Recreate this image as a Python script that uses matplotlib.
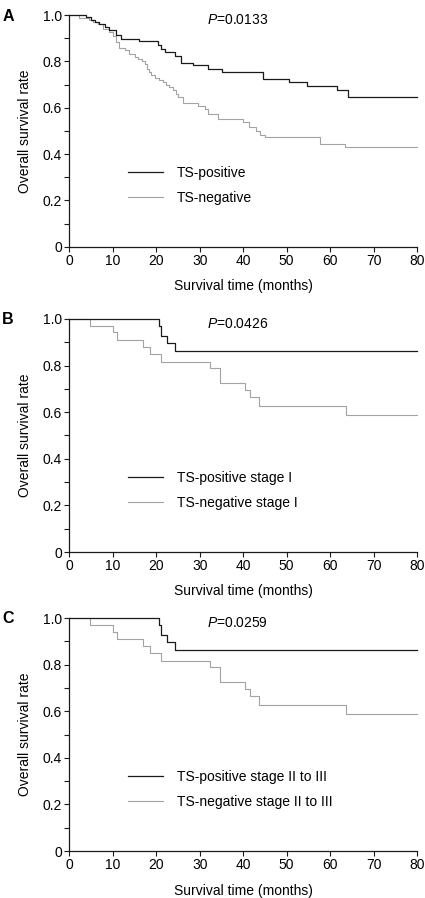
import matplotlib.pyplot as plt
from matplotlib.ticker import MultipleLocator

plt.rcParams["font.family"] = ["Liberation Sans", "DejaVu Sans"]
plt.rcParams["mathtext.fontset"] = "custom"
plt.rcParams["mathtext.it"] = "Liberation Sans:italic"
plt.rcParams["mathtext.rm"] = "Liberation Sans"

# Panel A: all patients
a_pos_t = [0, 3.7, 5.0, 5.8, 6.9, 8.1, 9.2, 10.8, 11.9, 16.1, 20.4, 21.1, 22.1, 24.2,
           25.7, 28.4, 31.9, 35.0, 44.6, 50.6, 54.7, 61.6, 64.2, 80]
a_pos_s = [1.0, 0.99, 0.98, 0.97, 0.96, 0.95, 0.934, 0.916, 0.898, 0.889, 0.873, 0.856,
           0.84, 0.823, 0.794, 0.785, 0.768, 0.753, 0.724, 0.71, 0.693, 0.675, 0.646, 0.646]
a_neg_t = [0, 2.3, 4.6, 5.4, 6.6, 7.7, 9.2, 10.0, 10.8, 11.5, 12.7, 13.8, 15.0, 15.8,
           16.8, 17.3, 17.8, 18.3, 18.8, 19.6, 20.7, 21.5, 22.3, 23.0, 23.8, 24.6, 25.0,
           26.1, 29.6, 31.1, 31.9, 34.2, 40.0, 41.3, 43.0, 43.8, 45.0, 57.6, 63.4, 80]
a_neg_s = [1.0, 0.988, 0.98, 0.97, 0.964, 0.942, 0.928, 0.91, 0.883, 0.86, 0.85, 0.834,
           0.82, 0.81, 0.80, 0.79, 0.768, 0.753, 0.74, 0.73, 0.72, 0.71, 0.70, 0.688,
           0.675, 0.66, 0.645, 0.622, 0.609, 0.594, 0.573, 0.553, 0.538, 0.517, 0.498,
           0.483, 0.472, 0.443, 0.429, 0.429]

# Panel B: stage I
b_pos_t = [0, 20.5, 21.1, 22.4, 24.4, 80]
b_pos_s = [1.0, 0.971, 0.928, 0.899, 0.862, 0.862]
b_neg_t = [0, 4.8, 10.0, 10.9, 16.9, 18.6, 21.1, 32.3, 34.7, 40.3, 41.5, 43.6, 63.6, 80]
b_neg_s = [1.0, 0.971, 0.942, 0.91, 0.88, 0.848, 0.817, 0.788, 0.725, 0.696, 0.664,
           0.628, 0.588, 0.588]

# Panel C: stage II to III
c_pos_t = [0, 20.5, 21.1, 22.4, 24.4, 80]
c_pos_s = [1.0, 0.971, 0.928, 0.899, 0.862, 0.862]
c_neg_t = [0, 4.8, 10.0, 10.9, 16.9, 18.6, 21.1, 32.3, 34.7, 40.3, 41.5, 43.6, 63.6, 80]
c_neg_s = [1.0, 0.971, 0.942, 0.91, 0.88, 0.848, 0.817, 0.788, 0.725, 0.696, 0.664,
           0.628, 0.588, 0.588]

p_values = ["0.0133", "0.0426", "0.0259"]

panels = [
    ("A", "TS-positive", "TS-negative", (a_pos_t, a_pos_s), (a_neg_t, a_neg_s)),
    ("B", "TS-positive stage I", "TS-negative stage I", (b_pos_t, b_pos_s), (b_neg_t, b_neg_s)),
    ("C", "TS-positive stage II to III", "TS-negative stage II to III",
     (c_pos_t, c_pos_s), (c_neg_t, c_neg_s)),
]
# axes boxes in figure fractions: (bottom, height)
boxes = [(0.7253, 0.2578), (0.3853, 0.2595), (0.0523, 0.2595)]

BLACK = "#1a1a1a"
GREY = "#a3a3a3"
FS = 10

fig = plt.figure(figsize=(4.25, 8.98), dpi=100)

for (letter, lab_pos, lab_neg, pos, neg), pval, (bottom, height) in zip(panels, p_values, boxes):
    ax = fig.add_axes([0.1635, bottom, 0.8176, height])
    ax.step(neg[0], neg[1], where="post", color=GREY, lw=0.8, label=lab_neg, clip_on=False)
    ax.step(pos[0], pos[1], where="post", color=BLACK, lw=0.9, label=lab_pos, clip_on=False)
    ax.set_xlim(0, 80)
    ax.set_ylim(0, 1.0)
    ax.spines["top"].set_visible(False)
    ax.spines["right"].set_visible(False)
    for s in ("left", "bottom"):
        ax.spines[s].set_linewidth(0.9)
        ax.spines[s].set_color(BLACK)
    ax.xaxis.set_major_locator(MultipleLocator(10))
    ax.yaxis.set_major_locator(MultipleLocator(0.2))
    ax.yaxis.set_minor_locator(MultipleLocator(0.1))
    ax.set_yticklabels(["0" if v == 0 else f"{v:.1f}" for v in ax.get_yticks()])
    ax.tick_params(which="both", direction="out", length=3.8, width=0.8,
                   labelsize=FS, color=BLACK, pad=1.5)
    ax.set_xlabel("Survival time (months)", fontsize=FS, labelpad=8)
    ax.set_ylabel("Overall survival rate", fontsize=FS, labelpad=8)
    ax.text(38.6, 0.98, f"$P$={pval}", fontsize=FS, ha="center", va="center")
    handles, labels = ax.get_legend_handles_labels()
    ax.legend(handles[::-1], labels[::-1], loc="center left",
              bbox_to_anchor=(0.169, 0.264), frameon=False, fontsize=FS,
              borderpad=0, borderaxespad=0, handlelength=2.5,
              handletextpad=1.0, labelspacing=0.8)
    fig.text(0.005, bottom + height - 0.001, letter, fontsize=11.5, fontweight="bold",
             ha="left", va="center")

fig.savefig("out.png", dpi=100)
